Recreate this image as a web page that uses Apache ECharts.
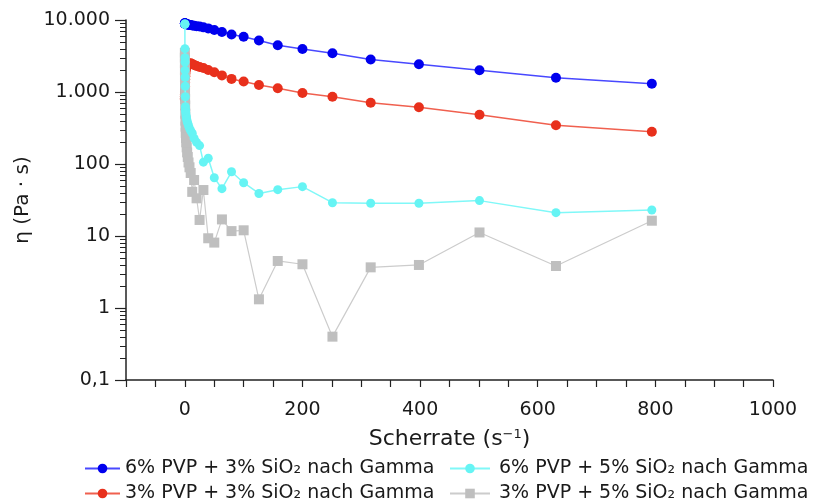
<!DOCTYPE html>
<html>
<head>
<meta charset="utf-8">
<script src="https://cdn.jsdelivr.net/npm/echarts@6/dist/echarts.min.js"></script>
<style>
html,body{margin:0;padding:0;background:#fff;}
#chart{width:818px;height:503px;}
</style>
</head>
<body>
<div id="chart"></div>
<script>
// Shear rate (1/s), log spaced
const shearRate = [0.1,0.126,0.158,0.2,0.251,0.316,0.398,0.501,0.631,0.794,
  1,1.26,1.58,2,2.51,3.16,3.98,5.01,6.31,7.94,
  10,12.6,15.8,20,25.1,31.6,39.8,50.1,63.1,79.4,
  100,126,158,200,251,316,398,501,631,794];

// 6% PVP + 3% SiO2 nach Gamma (blue)
const viscBlue = [9000,9000,8950,8950,8900,8900,8900,8850,8850,8850,
  8800,8800,8800,8750,8750,8700,8700,8650,8600,8550,
  8500,8400,8300,8200,8100,7900,7650,7250,6800,6300,
  5850,5200,4450,3950,3450,2820,2430,2000,1580,1300];

// 3% PVP + 3% SiO2 nach Gamma (red)
const viscRed = [780,820,870,930,1000,1100,1200,1350,1500,1650,
  1800,1950,2050,2150,2200,2250,2300,2350,2420,2480,
  2500,2450,2380,2300,2230,2150,2020,1880,1700,1520,
  1400,1250,1125,968,861,710,613,484,345,281];

// 6% PVP + 5% SiO2 nach Gamma (cyan)
const viscCyan = [8800,8800,8700,4000,3000,2600,2000,1600,1200,860,
  625,560,520,480,450,420,390,367,340,313,
  290,267,228,200,180,106,120,64.5,45.4,78,
  55,39,44,48.5,29,28.5,28.5,31,21.1,23];

// 3% PVP + 5% SiO2 nach Gamma (gray)
const viscGray = [3500,3000,2500,2000,1600,1300,1000,800,650,500,
  400,330,270,230,200,170,145,125,105,90,
  75,41,60,33.4,16.7,43.5,9.3,8.1,17,11.7,
  12,1.32,4.5,4.05,0.40,3.67,3.96,11.2,3.83,16.3];

const seriesNames = [
  '6% PVP + 3% SiO₂ nach Gamma',
  '3% PVP + 3% SiO₂ nach Gamma',
  '6% PVP + 5% SiO₂ nach Gamma',
  '3% PVP + 5% SiO₂ nach Gamma'
];

const yTickValues = [0.1,1,10,100,1000,10000];
const yTickLabels = ['0,1','1','10','100','1.000','10.000'];
const yMinorTicks = [0.2,0.3,0.4,0.5,0.6,0.7,0.8,0.9,2,3,4,5,6,7,8,9,20,30,40,50,60,70,80,90,
  200,300,400,500,600,700,800,900,2000,3000,4000,5000,6000,7000,8000,9000];
const xMin = -100, xMax = 1000;
const xLabelStep = 200;

function pairs(ys){ return shearRate.map((x,i)=>[x, ys[i]]); }

const FONT = 'DejaVu Sans';
const chart = echarts.init(document.getElementById('chart'), null, {renderer:'canvas'});

function mkSeries(name, data, marker, line, symbol, size, lw, z){
  return {
    name: name, type: 'line', data: pairs(data),
    symbol: symbol, symbolSize: size, showSymbol: true,
    itemStyle: {color: marker},
    lineStyle: {color: line, width: lw},
    emphasis: {disabled: true},
    animation: false, z: z
  };
}

function mkLegend(name, left, top, w, pad){
  return {
    data: [name], left: left, top: top, itemWidth: w, itemHeight: 12, itemGap: 0,
    textStyle: {fontFamily: FONT, fontSize: 19, color: '#1a1a1a', padding:[0,0,0,pad]},
    selectedMode: false
  };
}

chart.setOption({
  backgroundColor: '#fff',
  animation: false,
  textStyle: {fontFamily: FONT},
  grid: {left: 126, right: 45, top: 20, bottom: 123, containLabel: false},
  legend: [
    mkLegend(seriesNames[0], 79, 454, 35, 0),
    mkLegend(seriesNames[2], 444, 454, 40, 4),
    mkLegend(seriesNames[1], 79, 479, 35, 0),
    mkLegend(seriesNames[3], 444, 479, 40, 4)
  ],
  xAxis: {
    type: 'value', min: xMin, max: xMax, interval: 50,
    name: 'Scherrate (s{sup|−1})', nameLocation: 'middle', nameGap: 48,
    nameTextStyle: {fontFamily: FONT, fontSize: 22, color: '#1a1a1a',
      rich: {sup: {fontSize: 13, verticalAlign: 'top', padding:[0,0,10,0], fontFamily: FONT, color:'#1a1a1a'}}},
    axisLine: {show: true, onZero: false, lineStyle: {color: '#222', width: 1.5}},
    axisTick: {show: true, inside: false, length: 7, lineStyle: {color: '#222', width: 1.2}},
    axisLabel: {fontFamily: FONT, fontSize: 19, color: '#1a1a1a', margin: 21,
      formatter: function(v){ return (Math.round(v) % xLabelStep === 0 && v >= 0) ? String(v) : ''; }},
    splitLine: {show: false}
  },
  yAxis: {
    type: 'log', logBase: 10, min: 0.1, max: 10000,
    name: 'η (Pa · s)', nameLocation: 'middle', nameGap: 86, nameRotate: 90,
    nameTextStyle: {fontFamily: FONT, fontSize: 20, color: '#1a1a1a'},
    axisLine: {show: true, onZero: false, lineStyle: {color: '#222', width: 1.5}},
    axisTick: {show: true, length: 11, lineStyle: {color: '#222', width: 1.2}},
    axisLabel: {fontFamily: FONT, fontSize: 19, color: '#1a1a1a', margin: 16,
      formatter: function(v){
        for (let i = 0; i < yTickValues.length; i++) {
          if (Math.abs(Math.log10(v) - Math.log10(yTickValues[i])) < 1e-6) return yTickLabels[i];
        }
        return '';
      }},
    splitLine: {show: false}
  },
  series: [
    mkSeries(seriesNames[0], viscBlue, '#0000ee', '#4848ff', 'circle', 10, 1.5, 2),
    mkSeries(seriesNames[1], viscRed, '#e8301c', '#f0604f', 'circle', 10, 1.5, 3),
    mkSeries(seriesNames[3], viscGray, '#bfbfbf', '#cccccc', 'rect', 10, 1.2, 4),
    mkSeries(seriesNames[2], viscCyan, '#66f4f4', '#80f8f8', 'circle', 9, 1.5, 5)
  ]
});

// Minor ticks (2..9 of each decade), positioned through the chart's own log scale
const minorTickGraphics = [];
yMinorTicks.forEach(function(v){
  const p = chart.convertToPixel({xAxisIndex: 0, yAxisIndex: 0}, [xMin, v]);
  if (p && isFinite(p[0]) && isFinite(p[1])) {
    const y = Math.round(p[1]) + 0.5;
    minorTickGraphics.push({
      type: 'line', silent: true, z: 10,
      shape: {x1: p[0] - 6, y1: y, x2: p[0], y2: y},
      style: {stroke: '#222', lineWidth: 1}
    });
  }
});
chart.setOption({graphic: {elements: minorTickGraphics}});
</script>
</body>
</html>
